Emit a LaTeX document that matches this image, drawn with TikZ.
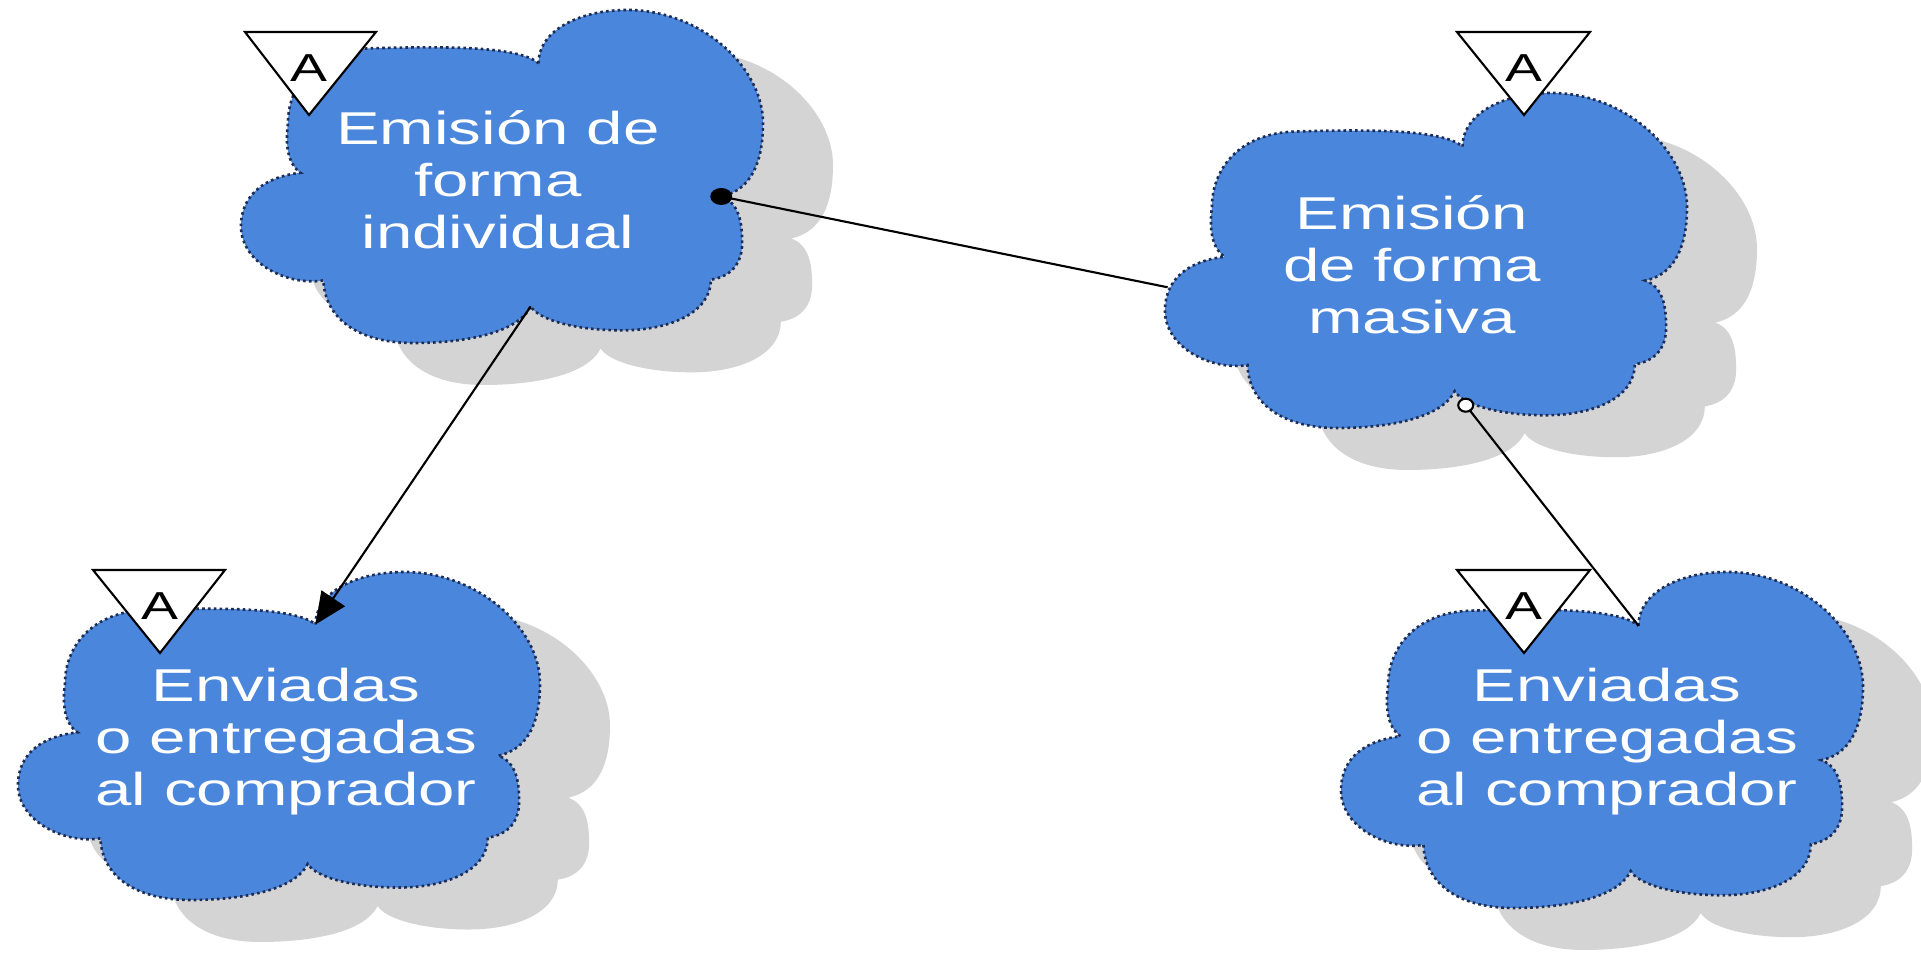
\documentclass[tikz,border=0pt]{standalone}
\usepackage{fontspec}
\newfontfamily\cloudfont{Liberation Sans}[FakeStretch=1.42]
\usetikzlibrary{arrows.meta,calc}
\definecolor{cloudblue}{RGB}{74,134,220}
\definecolor{shadowgray}{RGB}{212,212,212}
\definecolor{cloudedge}{RGB}{30,45,85}

% cloud outline in a unit box: x in [0,1], y in [-1,0]
\newcommand\cloudshape{(0.57,-0.16)
 .. controls (0.57,-0.06) and (0.65,0) .. (0.74,0)
 .. controls (0.88,0) and (1,-0.17) .. (1,-0.34)
 .. controls (1,-0.45) and (0.98,-0.54) .. (0.92,-0.56)
 .. controls (0.955,-0.58) and (0.96,-0.64) .. (0.96,-0.70)
 .. controls (0.96,-0.76) and (0.94,-0.80) .. (0.90,-0.81)
 .. controls (0.90,-0.91) and (0.82,-0.962) .. (0.73,-0.962)
 .. controls (0.64,-0.962) and (0.57,-0.93) .. (0.555,-0.89)
 .. controls (0.53,-0.97) and (0.43,-1.0) .. (0.33,-1.0)
 .. controls (0.22,-1.0) and (0.16,-0.92) .. (0.158,-0.812)
 .. controls (0.09,-0.83) and (0,-0.76) .. (0,-0.65)
 .. controls (0,-0.55) and (0.05,-0.50) .. (0.114,-0.489)
 .. controls (0.088,-0.46) and (0.085,-0.40) .. (0.09,-0.34)
 .. controls (0.09,-0.23) and (0.14,-0.12) .. (0.25,-0.115)
 .. controls (0.37,-0.11) and (0.53,-0.105) .. (0.57,-0.16)
 -- cycle}

% #1 x0, #2 y0 (downward), #3 W, #4 H  (cm, 1cm = 100px)
\newcommand\cloudshadow[4]{%
  \begin{scope}[shift={(#1+0.70,-#2-0.42)}, xscale=#3, yscale=#4]
    \fill[shadowgray] \cloudshape;
  \end{scope}}
\newcommand\cloudbody[5]{%
  \begin{scope}[shift={(#1,-#2)}, xscale=#3, yscale=#4]
    \filldraw[cloudbox] \cloudshape;
    \coordinate (#5n1) at (0.57,-0.16);
    \coordinate (#5n2) at (0.92,-0.56);
    \coordinate (#5n4) at (0.555,-0.89);
    \coordinate (#5l) at (0.005,-0.58);
  \end{scope}}

\begin{document}
\begin{tikzpicture}[
  cloudbox/.style={fill=cloudblue, draw=cloudedge, line width=0.75pt, dash pattern=on 0.75pt off 0.9pt},
  cloudtext/.style={text=white, align=center, inner sep=0pt,
    font=\cloudfont\fontsize{13.1pt}{14.8pt}\selectfont},
  tri/.style={fill=white, draw=black, line width=0.6pt, line join=miter},
  trilabel/.style={text=black, inner sep=0pt, font=\cloudfont\fontsize{11.1pt}{12pt}\selectfont},
  conn/.style={draw=black, line width=0.6pt}
]
\useasboundingbox (0,0) rectangle (19.21,-9.54);
\fill[white] (0,0) rectangle (19.21,-9.54);

% shadows
\cloudshadow{2.41}{0.10}{5.22}{3.33}
\cloudshadow{11.65}{0.93}{5.22}{3.35}
\cloudshadow{0.18}{5.72}{5.22}{3.28}
\cloudshadow{13.41}{5.72}{5.22}{3.36}

% clouds
\cloudbody{2.41}{0.10}{5.22}{3.33}{k1}
\cloudbody{11.65}{0.93}{5.22}{3.35}{k2}
\cloudbody{0.18}{5.72}{5.22}{3.28}{k3}
\cloudbody{13.41}{5.72}{5.22}{3.36}{k4}

% texts
\node[cloudtext] (t1) at (4.98,-1.80) {Emisión de\\forma\\individual};
\node[cloudtext] (t2) at (14.12,-2.65) {Emisión\\de forma\\masiva};
\node[cloudtext] (t3) at (2.86,-7.42) {Enviadas\\o entregadas\\al comprador};
\node[cloudtext] (t4) at (16.07,-7.42) {Enviadas\\o entregadas\\al comprador};

% connectors
\coordinate (oc) at ($(k2n4)!0.06!(k4n1)$);
\draw[conn] (k1n2) -- (k2l);
\fill[black] (k1n2) ellipse [x radius=0.11, y radius=0.085];
\draw[conn, -{Triangle[length=9pt,width=8pt]}] (k1n4) -- (k3n1);
\draw[conn] (oc) -- (k4n1);
\filldraw[fill=white, draw=black, line width=0.6pt] (oc) ellipse [x radius=0.075, y radius=0.065];

% triangles
\draw[tri] (2.45,-0.32) -- (3.76,-0.32) -- (3.09,-1.15) -- cycle;
\node[trilabel] (a1) at (3.09,-0.68) {A};
\draw[tri] (14.57,-0.32) -- (15.90,-0.32) -- (15.24,-1.15) -- cycle;
\node[trilabel] (a2) at (15.24,-0.68) {A};
\draw[tri] (0.93,-5.70) -- (2.25,-5.70) -- (1.60,-6.53) -- cycle;
\node[trilabel] (a3) at (1.60,-6.06) {A};
\draw[tri] (14.57,-5.70) -- (15.90,-5.70) -- (15.24,-6.53) -- cycle;
\node[trilabel] (a4) at (15.24,-6.06) {A};
\end{tikzpicture}
\end{document}
